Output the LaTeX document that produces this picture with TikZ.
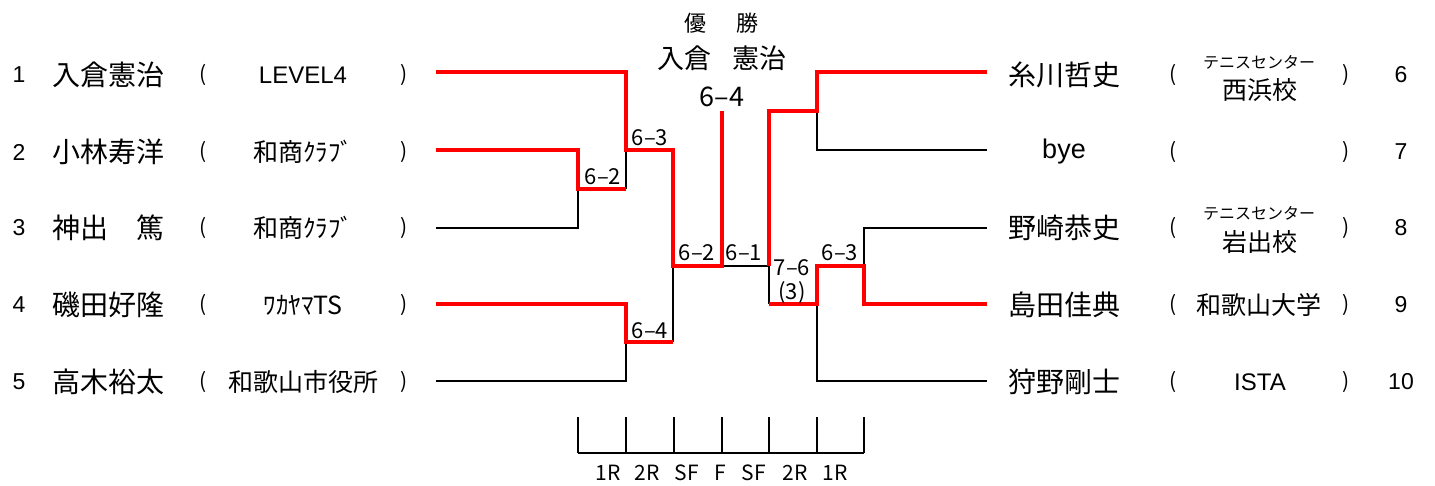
\documentclass[tikz,border=0pt]{standalone}
\usepackage{fontspec}
\setmainfont{Noto Sans CJK JP}
\newfontfamily\latf{Liberation Sans}
\newcommand{\fsz}[1]{\fontsize{#1}{#1}\selectfont}
\begin{document}
\begin{tikzpicture}[x=1pt,y=-1pt,
  every node/.style={inner sep=0pt, outer sep=0pt, anchor=center},
  pname/.style={font=\fsz{28}},
  pclub/.style={font=\fsz{25}},
  pclublat/.style={font=\latf\fsz{24}},
  pclubsmall/.style={font=\fsz{16}},
  pnum/.style={font=\latf\fsz{23}},
  paren/.style={font=\fsz{21}},
  score/.style={font=\fsz{22}},
  title/.style={font=\fsz{22}},
  winner/.style={font=\fsz{27}},
  final/.style={font=\fsz{27}},
  rnd/.style={font=\fsz{21}},
  lose/.style={draw=black, line width=2pt, line join=miter},
  win/.style={draw=red, line width=4pt, line join=miter},
  tick/.style={draw=black, line width=2pt}]
\path[use as bounding box, fill=white] (0,0) rectangle (1435,486);

% ---------- player line ends ----------
\coordinate (p1) at (436,72);
\coordinate (p2) at (436,150);
\coordinate (p3) at (436,228);
\coordinate (p4) at (436,304);
\coordinate (p5) at (436,381);
\coordinate (p6) at (987,72);
\coordinate (p7) at (987,150);
\coordinate (p8) at (987,228);
\coordinate (p9) at (987,304);
\coordinate (p10) at (987,381);
% match points
\coordinate (m23) at (578,189);
\coordinate (m123) at (626,150);
\coordinate (m45) at (626,342);
\coordinate (sfL) at (673,266);
\coordinate (fin) at (722,266);
\coordinate (top) at (722,111);
\coordinate (m67) at (817,111);
\coordinate (m89) at (864,266);
\coordinate (m8910) at (817,304);
\coordinate (sfR) at (769,266);

% ---------- losing lines ----------
\draw[lose] (p3) -- (p3 -| m23) -- (m23);
\draw[lose] (m123) -- (m123 |- m23);
\draw[lose] (p5) -- (p5 -| m45) -- (m45);
\draw[lose] (sfL) -- (sfL |- m45);
\draw[lose] (fin) -- (sfR) -- (sfR |- m8910);
\draw[lose] (p7) -- (p7 -| m67) -- (m67);
\draw[lose] (p8) -- (p8 -| m89) -- (m89);
\draw[lose] (p10) -- (p10 -| m8910) -- (m8910);

% ---------- winning lines ----------
\draw[win] (p1) -- (p1 -| m123) -- (m123) -- (m123 -| sfL) -- (sfL) -- (fin) -- (top);
\draw[win] (p2) -- (p2 -| m23) -- (m23) -- (m23 -| m123);
\draw[win] (p4) -- (p4 -| m45) -- (m45) -- (m45 -| sfL);
\draw[win] (p6) -- (p6 -| m67) -- (m67) -- (m67 -| sfR) -- (sfR);
\draw[win] (p9) -- (p9 -| m89) -- (m89) -- (m89 -| m8910) -- (m8910) -- (m8910 -| sfR);

% ---------- scores ----------
\node[score] (s23) at (603,177) {6–2};
\node[score] (s123) at (650,138) {6–3};
\node[score] (s45) at (650,331) {6–4};
\node[score] (ssfL) at (697,253) {6–2};
\node[score] (ssfR) at (744,253) {6–1};
\node[score] (s8910) at (792,268) {7–6};
\node[score] (s8910b) at (792,293) {(3)};
\node[score] (s89) at (840,253) {6–3};

% ---------- title ----------
\node[title] (t1) at (695,23) {優};
\node[title] (t2) at (747,23) {勝};
\node[winner] (w1) at (684,58) {入倉};
\node[winner] (w2) at (759,58) {憲治};
\node[final] (fs) at (722,97) {6–4};

% ---------- left players ----------
\foreach \i/\y/\nm in {1/75/入倉憲治, 2/152/小林寿洋, 3/228/神出　篤, 4/305/磯田好隆, 5/382/高木裕太}{
  \node[pnum] (ln\i) at (19,\y) {\i};
  \node[pname] (lname\i) at (108,\y) {\nm};
  \node[paren] (lpo\i) at (203,\y) {(};
  \node[paren] (lpc\i) at (404,\y) {)};
}
\node[pclublat] (lclub1) at (303,75) {LEVEL4};
\node[pclub] (lclub2) at (303,152) {和商ｸﾗﾌﾞ};
\node[pclub] (lclub3) at (303,228) {和商ｸﾗﾌﾞ};
\node[pclub] (lclub4) at (303,305) {ﾜｶﾔﾏTS};
\node[pclub] (lclub5) at (303,382) {和歌山市役所};

% ---------- right players ----------
\foreach \i/\y/\nm in {6/75/糸川哲史, 8/228/野崎恭史, 9/305/島田佳典, 10/382/狩野剛士}{
  \node[pname] (rname\i) at (1064,\y) {\nm};
}
\node[pname, font=\latf\fsz{27}] (rname7) at (1064,152) {bye};
\foreach \i/\y in {6/75, 7/152, 8/228, 9/305, 10/382}{
  \node[paren] (rpo\i) at (1173,\y) {(};
  \node[paren] (rpc\i) at (1346,\y) {)};
  \node[pnum] (rn\i) at (1401,\y) {\i};
}
\node[pclubsmall] (rc6a) at (1259,62) {テニスセンター};
\node[pclub] (rc6b) at (1260,90) {西浜校};
\node[pclubsmall] (rc8a) at (1259,213) {テニスセンター};
\node[pclub] (rc8b) at (1260,242) {岩出校};
\node[pclub] (rc9) at (1259,305) {和歌山大学};
\node[pclublat] (rc10) at (1260,382) {ISTA};

% ---------- round legend ----------
\foreach \k/\x in {a/578, b/626, c/674, d/722, e/769, f/817, g/864}{
  \coordinate (tk\k) at (\x,417);
  \draw[tick] (tk\k) -- ++(0,36);
}
\coordinate (base) at (578,453);
\draw[tick] (578,453) -- (864,453);
\foreach \x/\t/\k in {608/1R/a, 647/2R/b, 687/SF/c, 720/F/d, 754/SF/e, 795/2R/f, 835/1R/g}{
  \node[rnd] (rl\k) at (\x,473) {\t};
}
\end{tikzpicture}
\end{document}
